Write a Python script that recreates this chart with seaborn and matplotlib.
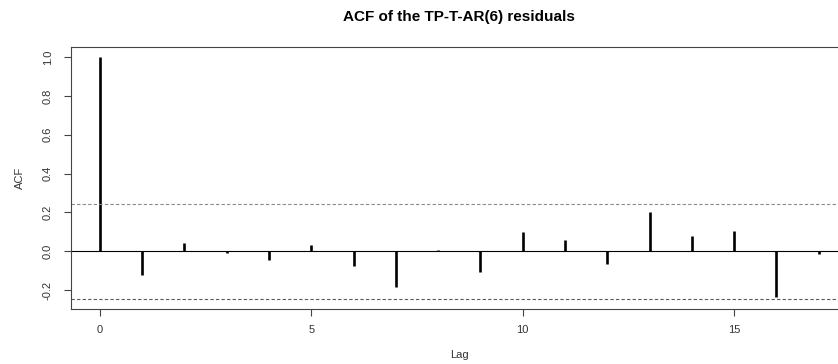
import matplotlib
matplotlib.use('Agg')
import matplotlib.pyplot as plt
import seaborn as sns
import pandas as pd
import numpy as np

# --- data ---
lags = [0, 1, 2, 3, 4, 5, 6, 7, 8, 9, 10, 11, 12, 13, 14, 15, 16, 17]
acf_vals = [1.0, -0.122, 0.045, -0.008, -0.043, 0.034, -0.077, -0.184,
            0.007, -0.108, 0.098, 0.058, -0.065, 0.204, 0.079, 0.103,
            -0.237, -0.015]
ci_bound = 0.246
yticks = [-0.2, 0.0, 0.2, 0.4, 0.6, 0.8, 1.0]
xticks = [0, 5, 10, 15]

df = pd.DataFrame({'Lag': lags, 'ACF': acf_vals})

sns.set_theme(style='white')
plt.rcParams['font.family'] = ['Liberation Sans', 'DejaVu Sans']
txt = '#333333'

fig = plt.figure(figsize=(8.38, 3.64), dpi=100)
ax = fig.add_axes([0.0847, 0.1503, 0.9267, 0.7198])

# stems
ax.vlines(df['Lag'], 0, df['ACF'], color='black', linewidth=1.9)
ax.axhline(0, color='black', linewidth=0.8)
ax.axhline(ci_bound, color='#8a8a8a', linestyle=(0, (3, 2)), linewidth=0.8)
ax.axhline(-ci_bound, color='#5a5a5a', linestyle=(0, (3, 2)), linewidth=0.8)

ax.set_xlim(-0.68, 17.68)
ax.set_ylim(-0.2985, 1.0505)
ax.set_xticks(xticks)
ax.set_yticks(yticks)
ax.set_yticklabels([f'{v:.1f}' for v in yticks], rotation=90, va='center')
ax.tick_params(axis='both', direction='out', length=5, width=0.8,
               color='#444444', labelsize=8, labelcolor=txt,
               bottom=True, left=True)
ax.tick_params(axis='x', pad=6)
ax.tick_params(axis='y', pad=8)

for s in ax.spines.values():
    s.set_color('#444444')
    s.set_linewidth(0.8)
sns.despine(ax=ax, top=False, right=True)

ax.set_xlabel('Lag', fontsize=8, color=txt)
ax.set_ylabel('ACF', fontsize=8, color=txt)
ax.xaxis.set_label_coords(0.5, -0.174)
ax.xaxis.label.set_va('center')
ax.yaxis.set_label_coords(-0.0657, 0.5)
ax.yaxis.label.set_va('center')

fig.text(0.548, 1 - 17 / 364, 'ACF of the TP-T-AR(6) residuals',
         ha='center', va='center', fontsize=11, fontweight='bold',
         color='black')

fig.savefig('out.png', dpi=100)
